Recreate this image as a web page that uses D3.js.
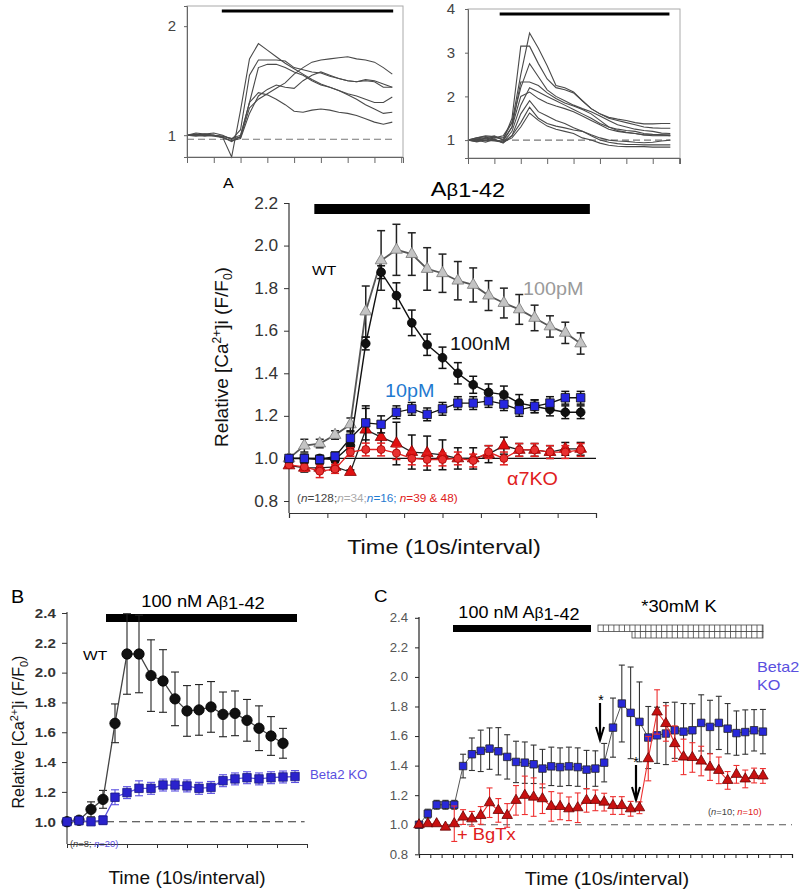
<!DOCTYPE html>
<html><head><meta charset="utf-8">
<script src="https://cdnjs.cloudflare.com/ajax/libs/d3/7.8.5/d3.min.js"></script>
<style>body{margin:0;background:#fff}svg{display:block}text{font-family:Arial,"Liberation Sans",sans-serif}</style>
</head><body><svg id="c" width="800" height="893"></svg>
<script>
// ---------- DATA ----------
// top-left inset traces (24 samples each)
const insL1=[1.0,1.01,1.0,1.0,0.98,0.80,1.23,1.70,1.84,1.78,1.72,1.66,1.61,1.56,1.51,1.47,1.44,1.41,1.37,1.33,1.28,1.24,1.20,1.21];
const insL2=[1.0,1.02,1.01,1.02,1.0,0.96,1.05,1.55,1.69,1.69,1.69,1.68,1.62,1.60,1.58,1.57,1.54,1.52,1.50,1.49,1.50,1.49,1.44,1.44];
const insL3=[1.0,0.99,1.0,0.99,0.98,0.94,0.99,1.30,1.62,1.65,1.65,1.62,1.58,1.55,1.50,1.46,1.44,1.41,1.38,1.36,1.33,1.30,1.30,1.35];
const insL4=[1.0,1.0,1.01,1.0,0.99,0.97,0.98,1.25,1.33,1.38,1.43,1.48,1.56,1.62,1.67,1.69,1.70,1.71,1.72,1.70,1.69,1.67,1.62,1.56];
const insL5=[1.0,1.0,0.99,1.0,0.98,0.95,0.97,1.20,1.36,1.42,1.46,1.44,1.43,1.50,1.55,1.58,1.55,1.52,1.50,1.49,1.51,1.50,1.47,1.44];
const insL6=[1.0,1.0,1.01,1.0,0.99,0.97,1.0,1.30,1.39,1.37,1.33,1.28,1.22,1.21,1.23,1.24,1.23,1.21,1.20,1.18,1.15,1.12,1.10,1.12];
// top-right inset traces
const insR1=[1.0,1.05,1.08,1.05,1.1,1.4,2.5,3.45,3.1,2.7,2.25,2.2,2.1,1.9,1.72,1.6,1.52,1.48,1.45,1.4,1.37,1.37,1.38,1.38];
const insR2=[1.0,0.97,1.05,1.1,1.0,1.5,3.15,3.15,2.75,2.4,2.2,2.15,2.08,1.9,1.72,1.6,1.5,1.45,1.4,1.35,1.3,1.28,1.27,1.27];
const insR3=[1.0,1.02,1.0,1.05,1.05,1.4,2.2,2.75,2.45,2.15,2.0,1.9,1.8,1.72,1.65,1.55,1.45,1.35,1.3,1.25,1.22,1.2,1.16,1.15];
const insR4=[1.0,1.05,1.1,1.08,1.0,1.3,2.33,2.33,2.25,2.08,1.95,1.85,1.78,1.7,1.6,1.45,1.3,1.25,1.22,1.2,1.15,1.13,1.12,1.12];
const insR5=[1.0,0.98,1.05,1.0,0.95,1.2,1.8,2.2,2.1,2.0,1.9,1.8,1.7,1.6,1.5,1.38,1.3,1.22,1.18,1.15,1.12,1.1,1.1,1.1];
const insR6=[1.0,1.0,0.95,1.02,0.93,1.1,1.6,1.9,1.65,1.55,1.45,1.38,1.28,1.2,1.12,1.05,1.0,0.98,0.97,0.95,0.94,0.95,0.98,1.0];
const insR7=[1.0,0.96,1.0,0.98,0.95,1.1,1.4,1.75,1.5,1.38,1.32,1.28,1.23,1.2,1.1,1.0,0.95,0.92,0.9,0.9,0.89,0.89,0.89,0.89];
const insR8=[1.0,1.0,0.98,1.0,0.95,1.05,1.3,1.62,1.45,1.32,1.25,1.2,1.15,1.05,1.0,0.93,0.88,0.86,0.85,0.85,0.85,0.84,0.84,0.84];
const insR9=[1.0,1.03,1.05,1.0,0.98,1.3,2.0,2.1,1.95,1.85,1.78,1.72,1.65,1.55,1.45,1.35,1.25,1.2,1.17,1.15,1.12,1.12,1.12,1.1];
const insLYTicks=[1,2], insRYTicks=[1,2,3,4];

// panel A
const aYTicks=[0.8,1.0,1.2,1.4,1.6,1.8,2.0,2.2];
const aXTicks=[0,2.5,5,7.5,10,12.5,15,17.5,20];
const a100pM=[1.00,1.06,1.07,1.11,1.16,1.69,1.93,1.98,1.96,1.89,1.87,1.835,1.815,1.765,1.73,1.70,1.66,1.62,1.59,1.54];
const a100pMErr=[0.01,0.03,0.02,0.02,0.03,0.12,0.14,0.12,0.10,0.10,0.09,0.09,0.08,0.07,0.07,0.07,0.06,0.05,0.05,0.05];
const a100nM=[1.00,1.00,1.00,0.995,1.06,1.54,1.875,1.765,1.637,1.534,1.473,1.40,1.346,1.31,1.30,1.26,1.245,1.23,1.217,1.217];
const a100nMErr=[0.01,0.01,0.01,0.01,0.02,0.03,0.03,0.06,0.06,0.05,0.05,0.05,0.04,0.04,0.04,0.04,0.03,0.03,0.03,0.03];
const a10pM=[1.00,1.00,0.995,1.01,1.095,1.167,1.16,1.217,1.233,1.207,1.233,1.26,1.26,1.27,1.255,1.228,1.245,1.26,1.285,1.285];
const a10pMErr=[0.01,0.02,0.02,0.02,0.03,0.08,0.04,0.03,0.03,0.03,0.03,0.03,0.03,0.03,0.03,0.03,0.03,0.03,0.03,0.03];
const aKOtri=[0.967,0.956,0.956,0.96,0.936,1.135,1.10,1.07,1.03,1.025,1.017,1.0,1.0,1.02,1.06,1.04,1.04,1.03,1.045,1.045];
const aKOtriErr=[0.01,0.02,0.02,0.02,0.01,0.10,0.06,0.10,0.08,0.08,0.07,0.05,0.05,0.04,0.04,0.03,0.03,0.03,0.03,0.03];
const aKOcirc=[0.97,0.96,0.94,0.95,1.03,1.042,1.042,1.025,1.0,0.995,0.995,1.0,0.99,1.03,1.0,1.04,1.04,1.03,1.03,1.04];
const aKOcircErr=[0.01,0.02,0.03,0.02,0.02,0.03,0.03,0.03,0.03,0.03,0.03,0.03,0.03,0.03,0.03,0.03,0.03,0.03,0.03,0.03];

// panel B
const bYTicks=[1.0,1.2,1.4,1.6,1.8,2.0,2.2,2.4];
const bXTicks=[0,2.5,5,7.5,10,12.5,15,17.5,20];
const bWT=[1.0,1.01,1.083,1.15,1.66,2.125,2.125,1.98,1.944,1.824,1.743,1.75,1.77,1.72,1.727,1.68,1.627,1.575,1.526];
const bWTErr=[0.01,0.01,0.05,0.06,0.13,0.27,0.26,0.24,0.21,0.18,0.17,0.17,0.17,0.15,0.15,0.14,0.15,0.13,0.10];
const bKO=[1.0,1.007,1.0,1.01,1.164,1.195,1.224,1.224,1.246,1.246,1.24,1.224,1.23,1.275,1.287,1.295,1.287,1.295,1.30,1.303];
const bKOErr=[0.01,0.01,0.01,0.03,0.05,0.04,0.05,0.04,0.04,0.04,0.04,0.04,0.04,0.04,0.04,0.04,0.04,0.04,0.04,0.04];

// panel C
const cYTicks=[0.8,1.0,1.2,1.4,1.6,1.8,2.0,2.2,2.4];
const cKO=[1.0,1.075,1.135,1.135,1.135,1.397,1.477,1.50,1.515,1.497,1.459,1.425,1.42,1.409,1.38,1.395,1.39,1.395,1.39,1.373,1.38,1.42,1.657,1.82,1.757,1.696,1.59,1.605,1.617,1.639,1.63,1.639,1.689,1.662,1.689,1.65,1.62,1.627,1.639,1.63];
const cKOErr=[0.01,0.03,0.03,0.03,0.03,0.08,0.11,0.14,0.14,0.16,0.15,0.14,0.14,0.13,0.13,0.13,0.13,0.13,0.13,0.13,0.12,0.13,0.20,0.26,0.31,0.27,0.21,0.19,0.21,0.19,0.19,0.18,0.19,0.18,0.18,0.17,0.15,0.15,0.14,0.15];
const cBgTx=[1.0,1.007,1.007,0.984,1.007,1.052,1.04,1.063,1.149,1.097,1.063,1.165,1.199,1.187,1.176,1.124,1.124,1.108,1.115,1.165,1.165,1.153,1.13,1.13,1.108,1.115,1.447,1.763,1.685,1.549,1.459,1.455,1.431,1.39,1.368,1.30,1.341,1.31,1.333,1.33];
const cBgTxErr=[0.01,0.01,0.01,0.01,0.12,0.05,0.05,0.06,0.10,0.08,0.08,0.10,0.13,0.13,0.10,0.10,0.09,0.08,0.10,0.08,0.07,0.06,0.06,0.06,0.05,0.04,0.15,0.15,0.12,0.12,0.12,0.10,0.10,0.09,0.09,0.06,0.06,0.06,0.05,0.05];

// ---------- HELPERS ----------
const svg=d3.select("#c");
function rich(parent,x,y,segs,o={}){
  const sx=o.sx??1.12;
  const t=parent.append("text")
    .attr("transform",`translate(${x},${y})${o.rot?` rotate(${o.rot})`:""} scale(${sx},1)`)
    .attr("font-size",o.size||14).attr("fill",o.fill||"#000")
    .attr("text-anchor",o.anchor||"start");
  if(o.weight) t.attr("font-weight",o.weight);
  if(typeof segs==="string") segs=[{t:segs}];
  segs.forEach(s=>{
    const ts=t.append("tspan").text(s.t);
    if(s.fill) ts.attr("fill",s.fill);
    if(s.size) ts.attr("font-size",s.size);
    if(s.dy) ts.attr("dy",s.dy);
    if(s.it) ts.attr("font-style","italic");
  });
  return t;
}
function drawSeries(g,x,y,vals,errs,o){
  const eg=g.append("g").attr("stroke",o.err).attr("stroke-width",o.ew||1.3).attr("fill","none");
  vals.forEach((v,i)=>{
    const e=errs[i]; if(!e) return; const cx=x(i);
    eg.append("line").attr("x1",cx).attr("x2",cx).attr("y1",y(v-e)).attr("y2",y(v+e));
    [v-e,v+e].forEach(yy=>eg.append("line").attr("x1",cx-o.cap).attr("x2",cx+o.cap).attr("y1",y(yy)).attr("y2",y(yy)));
  });
  g.append("path").datum(vals).attr("d",d3.line().x((d,i)=>x(i)).y(d=>y(d)))
    .attr("fill","none").attr("stroke",o.line).attr("stroke-width",o.lw||1.2);
  g.append("g").selectAll("path").data(vals).join("path")
    .attr("transform",(d,i)=>`translate(${x(i)},${y(d)})`)
    .attr("d",d3.symbol(o.sym,o.size))
    .attr("fill",o.fill).attr("stroke",o.stroke).attr("stroke-width",o.sw||0.8);
}
function styleAxis(g,size,fill,sx){
  g.selectAll("text").attr("font-size",size).attr("fill",fill).attr("font-family","Arial, 'Liberation Sans', sans-serif");
  if(sx) g.selectAll("text").attr("transform",`scale(${sx},1)`);
}

// ---------- INSETS ----------
function inset(traces,cfg){
  const g=svg.append("g");
  const x=d3.scaleLinear().domain(cfg.xd).range([cfg.l,cfg.r]);
  const y=d3.scaleLinear().domain(cfg.yd).range([cfg.b,cfg.t]);
  g.append("rect").attr("x",cfg.l).attr("y",cfg.t).attr("width",cfg.r-cfg.l).attr("height",cfg.b-cfg.t)
    .attr("fill","none").attr("stroke","#aaa").attr("stroke-width",1);
  g.append("line").attr("x1",x(0)).attr("x2",x(cfg.dashEnd)).attr("y1",y(cfg.dashV)).attr("y2",y(cfg.dashV))
    .attr("stroke","#777").attr("stroke-width",1.2).attr("stroke-dasharray","7,4");
  g.append("line").attr("x1",x(cfg.barS)).attr("x2",x(cfg.barE)).attr("y1",cfg.barY).attr("y2",cfg.barY)
    .attr("stroke","#000").attr("stroke-width",cfg.barW);
  const line=d3.line().x((d,i)=>x(i)).y(d=>y(d));
  traces.forEach(tr=>g.append("path").datum(tr).attr("d",line).attr("fill","none").attr("stroke","#4a4a4a").attr("stroke-width",1.1));
  const ax=g.append("g").attr("transform",`translate(0,${cfg.b})`)
    .call(d3.axisBottom(x).tickValues(cfg.xt).tickSize(6).tickFormat(""));
  ax.select(".domain").attr("stroke","#666");
  ax.selectAll("line").attr("stroke","#666");
  const ay=g.append("g").attr("transform",`translate(${cfg.l},0)`)
    .call(d3.axisLeft(y).tickValues(cfg.yt).tickSize(3).tickPadding(cfg.pad).tickFormat(d3.format("d")));
  ay.select(".domain").attr("stroke","#666");
  ay.selectAll("line").attr("stroke","#666");
  styleAxis(ay,15,"#444");
}
inset([insL1,insL2,insL3,insL4,insL5,insL6],{l:187,r:403,t:6,b:157,xd:[0,24.2],yd:[0.8,2.185],
  xt:[0,3,6,9,12,15,18,21,24],yt:insLYTicks,dashV:0.963,dashEnd:23.2,barS:3.9,barE:23.1,barY:11,barW:2.8,pad:8});
inset([insR1,insR2,insR3,insR4,insR5,insR6,insR7,insR8,insR9],{l:468,r:680,t:9,b:158,xd:[0,24.1],yd:[0.59,4],
  xt:[0,3,6,9,12,15,18,21,24],yt:insRYTicks,dashV:1.0,dashEnd:23,barS:3.6,barE:22.9,barY:14,barW:3.2,pad:10});

// ---------- PANEL A ----------
(function(){
  const g=svg.append("g");
  const x=d3.scaleLinear().domain([0,20]).range([289,596]);
  const y=d3.scaleLinear().domain([0.8,2.2]).range([501,203]);
  const ay=g.append("g").attr("transform","translate(289,0)")
    .call(d3.axisLeft(y).tickValues(aYTicks).tickSize(5).tickPadding(5).tickFormat(d3.format(".1f")));
  ay.select(".domain").remove();
  ay.selectAll("line").attr("stroke","#333");
  styleAxis(ay,16,"#333",1.08);
  g.append("line").attr("x1",289).attr("x2",289).attr("y1",203).attr("y2",513).attr("stroke","#333").attr("stroke-width",1.2);
  const ax=g.append("g").attr("transform","translate(0,513)")
    .call(d3.axisBottom(x).tickValues(aXTicks).tickSize(5).tickFormat(""));
  ax.select(".domain").attr("stroke","#333").attr("stroke-width",1.2);
  ax.selectAll("line").attr("stroke","#333");
  g.append("line").attr("x1",x(0)).attr("x2",x(20)).attr("y1",y(1)).attr("y2",y(1)).attr("stroke","#111").attr("stroke-width",1.2);
  g.append("rect").attr("x",x(1.65)).attr("y",204).attr("width",x(19.6)-x(1.65)).attr("height",10).attr("fill","#000");
  drawSeries(g,x,y,a100pM,a100pMErr,{err:"#222",line:"#555",lw:1.8,sym:d3.symbolTriangle,size:60,fill:"#c4c4c4",stroke:"#777",cap:4,ew:1.5});
  drawSeries(g,x,y,a100nM,a100nMErr,{err:"#111",line:"#111",lw:1.4,sym:d3.symbolCircle,size:60,fill:"#111",stroke:"#000",cap:4,ew:1.5});
  drawSeries(g,x,y,aKOtri,aKOtriErr,{err:"#111",line:"#222",lw:1.3,sym:d3.symbolTriangle,size:60,fill:"#e01010",stroke:"#800",cap:4,ew:1.5});
  drawSeries(g,x,y,aKOcirc,aKOcircErr,{err:"#e02020",line:"#e02020",lw:1.3,sym:d3.symbolCircle,size:50,fill:"#e83030",stroke:"#a00",cap:4,ew:1.5});
  drawSeries(g,x,y,a10pM,a10pMErr,{err:"#111",line:"#111",lw:1.3,sym:d3.symbolSquare,size:72,fill:"#2626e0",stroke:"#111",cap:4,ew:1.5});
  rich(g,223,188,"A",{size:14,sx:1.15});
  rich(g,468,196,[{t:"A"},{t:"β",size:18},{t:"1-42",dy:1}],{size:21,anchor:"middle",sx:1.12});
  rich(g,312,275,"WT",{size:13.5,sx:1.15});
  rich(g,523,295,"100pM",{size:17.5,fill:"#9a9a9a",sx:1.13});
  rich(g,450,350,"100nM",{size:17.5,fill:"#111",sx:1.13});
  rich(g,385,397,"10pM",{size:17.5,fill:"#1f7ad0",sx:1.13});
  rich(g,507,485,"α7KO",{size:17.5,fill:"#e02020",sx:1.13});
  rich(g,297,502,[{t:"("},{t:"n",it:1},{t:"=128;"},{t:"n",it:1,fill:"#aaa"},{t:"=34;",fill:"#aaa"},{t:"n",it:1,fill:"#1f7ad0"},{t:"=16;",fill:"#1f7ad0"},{t:" "},{t:"n",it:1,fill:"#e02020"},{t:"=39 & 48)",fill:"#e02020"}],{size:10.5,fill:"#444",sx:1.12});
  rich(g,228,357,[{t:"Relative [Ca"},{t:"2+",size:12,dy:-7},{t:"]i (F/F",dy:7},{t:"0",size:12,dy:4},{t:")",dy:-4}],{size:19,rot:-90,anchor:"middle",sx:1,fill:"#111"});
  rich(g,444,554,"Time (10s/interval)",{size:21,anchor:"middle",sx:1.12,fill:"#111"});
})();

// ---------- PANEL B ----------
(function(){
  const g=svg.append("g");
  const x=d3.scaleLinear().domain([0,20]).range([67,307]);
  const y=d3.scaleLinear().domain([1.0,2.4]).range([821.7,613]);
  const ay=g.append("g").attr("transform","translate(67,0)")
    .call(d3.axisLeft(y).tickValues(bYTicks).tickSize(5).tickPadding(5).tickFormat(d3.format(".1f")));
  ay.select(".domain").remove();
  ay.selectAll("line").attr("stroke","#333");
  styleAxis(ay,13.5,"#222",1.12);
  ay.selectAll("text").attr("font-weight","bold").attr("fill","#333");
  g.append("line").attr("x1",67).attr("x2",67).attr("y1",612).attr("y2",844).attr("stroke","#333").attr("stroke-width",1.1);
  const ax=g.append("g").attr("transform","translate(0,844)")
    .call(d3.axisBottom(x).tickValues(bXTicks).tickSize(4).tickFormat(""));
  ax.select(".domain").attr("stroke","#333");
  ax.selectAll("line").attr("stroke","#333");
  g.append("line").attr("x1",x(0)).attr("x2",x(19.8)).attr("y1",y(1)).attr("y2",y(1)).attr("stroke","#333").attr("stroke-width",1.1).attr("stroke-dasharray","8,5");
  g.append("rect").attr("x",106).attr("y",614).attr("width",191).attr("height",8).attr("fill","#000");
  drawSeries(g,x,y,bWT,bWTErr,{err:"#222",line:"#444",lw:1.3,sym:d3.symbolCircle,size:85,fill:"#111",stroke:"#000",cap:4,ew:1.1});
  drawSeries(g,x,y,bKO,bKOErr,{err:"#5a4fe0",line:"#5a4fe0",lw:1.3,sym:d3.symbolSquare,size:72,fill:"#2a22cc",stroke:"#181880",cap:4,ew:1.1});
  rich(g,11,603,"B",{size:18,sx:1.1});
  rich(g,203,607,[{t:"100 nM A"},{t:"β",size:15},{t:"1-42",dy:2}],{size:17,anchor:"middle",sx:1.08});
  rich(g,83,660,"WT",{size:13.5,sx:1.15});
  rich(g,310,779,"Beta2 KO",{size:12,fill:"#5a4fe0",sx:1.1});
  rich(g,70,847,[{t:"("},{t:"n",it:1},{t:"=8; "},{t:"n",it:1,fill:"#5a4fe0"},{t:"=20)",fill:"#5a4fe0"}],{size:8.5,fill:"#444",sx:1.1});
  rich(g,24,732,[{t:"Relative [Ca"},{t:"2+",size:11,dy:-6},{t:"]i (F/F",dy:6},{t:"0",size:11,dy:4},{t:")",dy:-4}],{size:16,rot:-90,anchor:"middle",sx:1,fill:"#111"});
  rich(g,187,884,"Time (10s/interval)",{size:18,anchor:"middle",sx:1.06,fill:"#111"});
})();

// ---------- PANEL C ----------
(function(){
  const g=svg.append("g");
  const x=d3.scaleLinear().domain([0,42.3]).range([419,792]);
  const y=d3.scaleLinear().domain([0.8,2.4]).range([854.3,617.8]);
  const ay=g.append("g").attr("transform","translate(419,0)")
    .call(d3.axisLeft(y).tickValues(cYTicks).tickSize(4).tickPadding(6).tickFormat(d3.format(".1f")));
  ay.select(".domain").remove();
  ay.selectAll("line").attr("stroke","#222");
  styleAxis(ay,12,"#555",1.1);
  g.append("line").attr("x1",419).attr("x2",419).attr("y1",617).attr("y2",854).attr("stroke","#222").attr("stroke-width",1.2);
  const cXTicks=d3.range(0,42.31,42.3/33);
  const ax=g.append("g").attr("transform","translate(0,854)")
    .call(d3.axisBottom(x).tickValues(cXTicks).tickSize(4).tickFormat(""));
  ax.select(".domain").attr("stroke","#222").attr("stroke-width",1.2);
  ax.selectAll("line").attr("stroke","#222");
  g.append("line").attr("x1",419).attr("x2",792).attr("y1",y(1)).attr("y2",y(1)).attr("stroke","#555").attr("stroke-width",1.1).attr("stroke-dasharray","7,5");
  // bars
  g.append("rect").attr("x",453).attr("y",625).attr("width",138).attr("height",7).attr("fill","#000");
  const hg=g.append("g").attr("stroke","#444").attr("stroke-width",0.8).attr("fill","#fff");
  hg.append("rect").attr("x",598).attr("y",625).attr("width",165).attr("height",6.5);
  hg.append("rect").attr("x",632).attr("y",631.5).attr("width",131).attr("height",6.5);
  for(let xx=598+5.3;xx<763;xx+=5.3){
    hg.append("line").attr("x1",xx).attr("x2",xx).attr("y1",625).attr("y2",xx>=632?638:631.5);
  }
  drawSeries(g,x,y,cKO,cKOErr,{err:"#333",line:"#555",lw:1,sym:d3.symbolSquare,size:56,fill:"#2828d8",stroke:"#222",cap:3,ew:1.1});
  drawSeries(g,x,y,cBgTx,cBgTxErr,{err:"#ee3030",line:"#ee3030",lw:1.1,sym:d3.symbolTriangle,size:48,fill:"#c81010",stroke:"#600",cap:3,ew:1.1});
  // arrows
  [[600,703,740],[636,765,800]].forEach(([ax0,y0,y1])=>{
    g.append("line").attr("x1",ax0).attr("x2",ax0).attr("y1",y0).attr("y2",y1).attr("stroke","#000").attr("stroke-width",2.2);
    g.append("path").attr("d",`M${ax0-4},${y1-13}L${ax0},${y1}L${ax0+4},${y1-13}`).attr("fill","none").attr("stroke","#000").attr("stroke-width",2);
  });
  rich(g,601,705,"*",{size:14,anchor:"middle",sx:1});
  rich(g,636,767,"*",{size:14,anchor:"middle",sx:1});
  rich(g,374,602,"C",{size:17,sx:1.1});
  rich(g,519,618,[{t:"100 nM A"},{t:"β",size:15},{t:"1-42",dy:2}],{size:17,anchor:"middle",sx:1.06});
  rich(g,679,612,"*30mM K",{size:17,anchor:"middle",sx:1.08});
  rich(g,757,672,"Beta2",{size:15,fill:"#5a4fe0",sx:1.08});
  rich(g,757,690,"KO",{size:15,fill:"#5a4fe0",sx:1.08});
  rich(g,708,815,[{t:"("},{t:"n",it:1},{t:"=10; "},{t:"n",it:1,fill:"#e02020"},{t:"=10)",fill:"#e02020"}],{size:8.5,fill:"#444",sx:1.1});
  rich(g,457,840,"+ BgTx",{size:17,fill:"#e02020",sx:1.08});
  rich(g,607,885,"Time (10s/interval)",{size:19,anchor:"middle",sx:1.05,fill:"#111"});
})();
</script></body></html>
